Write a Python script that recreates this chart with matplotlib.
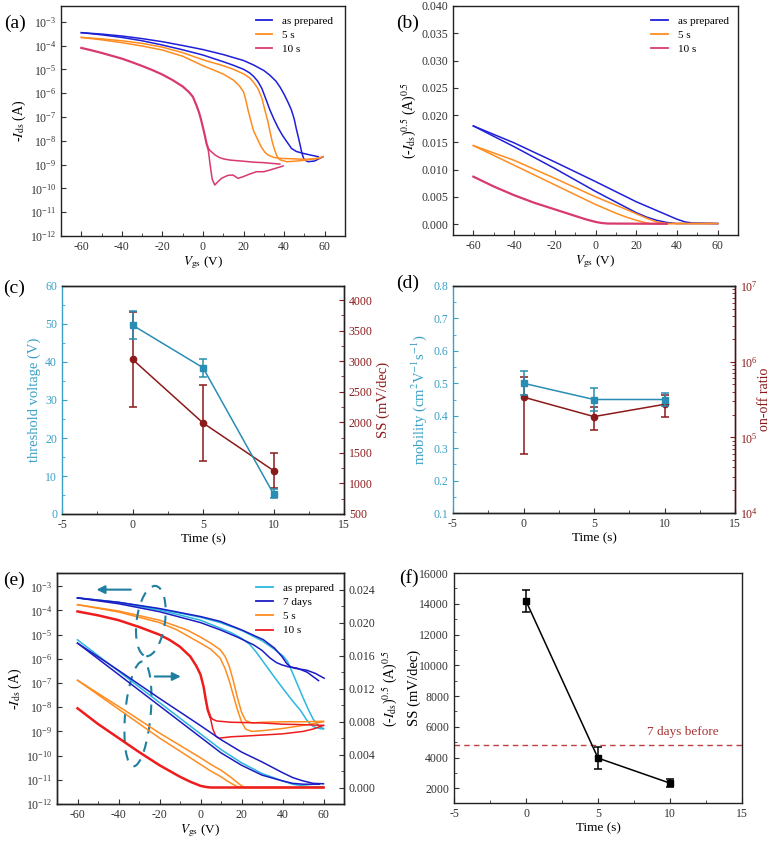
import numpy as np
import matplotlib
matplotlib.use('Agg')
from matplotlib import pyplot as plt
from matplotlib.patches import Ellipse
from matplotlib.ticker import MultipleLocator, LogLocator, NullFormatter, FormatStrFormatter

plt.rcParams['font.family'] = ['Liberation Serif', 'DejaVu Serif']
plt.rcParams['mathtext.fontset'] = 'stix'
plt.rcParams['axes.unicode_minus'] = False
plt.rcParams['xtick.direction'] = 'in'
plt.rcParams['ytick.direction'] = 'in'
plt.rcParams['axes.linewidth'] = 1.0
plt.rcParams['axes.edgecolor'] = '#222222'
plt.rcParams['xtick.color'] = '#333333'
plt.rcParams['ytick.color'] = '#333333'
plt.rcParams['xtick.labelsize'] = 8.5
plt.rcParams['ytick.labelsize'] = 8.5

BLUE = '#1f1fd8'
ORANGE = '#ff8c1f'
PINK = '#d83a6e'
CYAN = '#2bb8dc'
DBLUE = '#1c1cc4'
RED = '#ee1c1c'
TEAL = '#2a8db3'
TEAL_T = '#3aa0c6'
DRED = '#8b1a1a'
ANN = '#1f7fa0'

# ---- (a) transfer curves, log10(-Ids) ----
a_blue1_v = [-60, -50, -40, -30, -20, -10, 0, 10, 20, 25, 30, 33, 36, 38, 40, 42, 43.6, 45, 46,
             47, 47.7, 48.7, 49.5, 50.2, 51.8, 55, 59.2]
a_blue1_i = [-3.46, -3.52, -3.6, -3.71, -3.84, -4.0, -4.17, -4.38, -4.63, -4.82, -5.05, -5.25, -5.5,
             -5.75, -6.05, -6.4, -6.71, -7.1, -7.5, -7.85, -8.11, -8.5, -8.72, -8.81, -8.88, -8.85, -8.67]
a_blue2_v = [-60, -50, -40, -30, -20, -10, 0, 10, 15, 20, 23, 25, 27, 29, 31, 33, 35, 37, 39, 41,
             43.6, 46, 49.4, 53, 56.8]
a_blue2_i = [-3.46, -3.55, -3.66, -3.8, -3.98, -4.18, -4.4, -4.68, -4.83, -5.0, -5.15, -5.3, -5.5,
             -5.8, -6.25, -6.71, -7.1, -7.45, -7.75, -8.0, -8.32, -8.45, -8.53, -8.6, -8.67]
a_or1_v = [-60, -50, -40, -30, -20, -10, 0, 10, 15, 20, 23, 25, 27, 29, 30.5, 32, 33, 34, 35, 36.2,
           37, 38, 41.2, 45, 50, 55, 59.2]
a_or1_i = [-3.66, -3.72, -3.8, -3.91, -4.07, -4.3, -4.6, -4.85, -5.0, -5.19, -5.36, -5.55, -5.8,
           -6.2, -6.71, -7.2, -7.6, -8.0, -8.3, -8.6, -8.72, -8.8, -8.88, -8.86, -8.82, -8.76, -8.67]
a_or2_v = [-60, -50, -40, -30, -20, -10, 0, 5, 10, 15, 18, 20, 21, 22.2, 24, 25, 26.3, 27.5, 29,
           30.5, 32.1, 35, 37.9, 45, 50, 57.6]
a_or2_i = [-3.66, -3.76, -3.88, -4.02, -4.19, -4.45, -4.85, -5.02, -5.2, -5.45, -5.7, -5.95, -6.25,
           -6.71, -7.3, -7.6, -7.83, -8.05, -8.3, -8.48, -8.6, -8.7, -8.74, -8.76, -8.78, -8.74]
a_pk_v = [-60, -55, -50, -45, -40, -35, -30, -25, -20, -15, -10, -7, -5, -3.3, -2, -1, 0, 0.85, 1.7, 2.5]
a_pk_i = [-4.1, -4.2, -4.31, -4.43, -4.55, -4.7, -4.86, -5.03, -5.22, -5.45, -5.72, -5.95, -6.15,
          -6.5, -6.8, -7.1, -7.45, -7.76, -8.1, -8.32]
a_pk_up_v = [2.5, 4.1, 6, 8, 10, 13.2, 20, 25, 30, 37.9]
a_pk_up_i = [-8.32, -8.46, -8.6, -8.7, -8.76, -8.81, -8.86, -8.9, -8.92, -8.98]
a_pk_lo_v = [2.5, 3.5, 4.5, 5.8, 7, 9.1, 11, 12.5, 14.8, 17.3, 20, 23, 26.3, 30, 32.9, 36, 39.5]
a_pk_lo_i = [-8.32, -9.0, -9.6, -9.86, -9.75, -9.58, -9.5, -9.45, -9.44, -9.58, -9.5, -9.4, -9.3,
             -9.3, -9.23, -9.15, -9.06]

# ---- (b) sqrt(-Ids) ----
b_blue1_v = [-60, -40, -20, 0, 20, 30, 35, 40, 44, 47.5, 60]
b_blue1_s = [0.0180, 0.0149, 0.0114, 0.0078, 0.0041, 0.0025, 0.0017, 0.0009, 0.0004, 0.0002, 0.0001]
b_blue2_v = [-60, -40, -20, 0, 20, 25, 30, 35, 40, 60]
b_blue2_s = [0.0180, 0.0142, 0.0102, 0.0060, 0.0021, 0.0013, 0.0007, 0.0003, 0.0001, 0.0001]
b_or1_v = [-60, -40, -20, 0, 15, 20, 25, 30, 35, 60]
b_or1_s = [0.0144, 0.0117, 0.0084, 0.0050, 0.0027, 0.0019, 0.0011, 0.0004, 0.0001, 0.0001]
b_or2_v = [-60, -40, -20, 0, 10, 15, 20, 24, 27, 60]
b_or2_s = [0.0144, 0.0108, 0.0072, 0.0036, 0.0020, 0.0013, 0.0007, 0.0003, 0.0001, 0.0001]
b_pk_v = [-60, -50, -40, -30, -20, -10, -5, 0, 3, 6, 35]
b_pk_s = [0.0087, 0.0069, 0.0053, 0.0039, 0.0027, 0.0015, 0.0009, 0.0004, 0.0002, 0.0001, 0.00005]

# ---- (c) threshold voltage and SS ----
time_s = [0, 5, 10]
vth = [49.7, 38.5, 5.3]
vth_err = [3.7, 2.4, 1.2]
ss_c = [3030, 1990, 1210]
ss_c_err = [780, 620, 290]

# ---- (d) mobility and on/off ratio ----
mob = [0.50, 0.45, 0.45]
mob_err = [0.037, 0.037, 0.019]
onoff = [3.4e5, 1.88e5, 2.73e5]
onoff_err = [2.8e5, 0.62e5, 0.88e5]

# ---- (e) after 7 days, log10(-Ids) ----
e_cy1_v = [-60, -40, -20, 0, 9.6, 15, 20, 24, 27, 30, 33, 36, 40, 45, 48.6, 52, 55, 58, 60]
e_cy1_i = [-3.48, -3.68, -3.98, -4.4, -4.73, -4.92, -5.15, -5.4, -5.7, -6.05, -6.4, -6.75, -7.2,
           -7.75, -8.11, -8.55, -8.8, -8.88, -8.9]
e_cy2_v = [-60, -40, -20, 0, 9.6, 20, 30, 36, 40.5, 42.5, 44, 47, 50, 52.7, 55, 58, 60]
e_cy2_i = [-3.48, -3.66, -3.94, -4.28, -4.5, -4.82, -5.25, -5.6, -5.9, -6.12, -6.4, -7.0, -7.6,
           -8.11, -8.5, -8.8, -8.88]
e_db1_v = [-60, -40, -20, 0, 9.6, 20, 30.7, 36, 39.7, 42.1, 44, 46, 51.9, 56, 60.3]
e_db1_i = [-3.48, -3.66, -3.92, -4.25, -4.45, -4.8, -5.21, -5.55, -5.9, -6.2, -6.33, -6.39, -6.47,
           -6.6, -6.8]
e_db2_v = [-60, -40, -20, 0, 9.6, 18, 25.9, 30, 34, 37, 39.7, 43, 47, 52, 57.6]
e_db2_i = [-3.48, -3.72, -4.05, -4.5, -4.8, -5.1, -5.42, -5.65, -5.97, -6.15, -6.25, -6.33, -6.38,
           -6.55, -6.9]
e_or1_v = [-60, -40, -20, -6.7, 0, 5, 9.6, 12, 14, 16, 18, 20, 22, 25, 30, 40, 50, 60]
e_or1_i = [-3.76, -4.02, -4.4, -4.8, -5.1, -5.35, -5.62, -5.9, -6.3, -6.9, -7.6, -8.2, -8.55,
           -8.65, -8.62, -8.6, -8.6, -8.58]
e_or2_v = [-60, -40, -20, -11.5, 0, 5, 9.6, 12, 14, 16, 18, 20, 22, 25, 30, 40, 50, 60]
e_or2_i = [-3.76, -4.06, -4.5, -4.8, -5.35, -5.6, -5.97, -6.4, -6.9, -7.5, -8.1, -8.6, -8.9, -9.0,
           -8.97, -8.88, -8.75, -8.6]
e_rd_v = [-60, -50, -40, -30, -20, -15, -10, -5, -2, 0, 1.5, 2.5, 3.5, 4.7]
e_rd_i = [-4.04, -4.2, -4.4, -4.68, -5.0, -5.22, -5.5, -5.9, -6.3, -6.65, -7.15, -7.65, -8.1, -8.39]
e_rd_up_v = [4.7, 6, 8, 15, 30, 40, 50, 60]
e_rd_up_i = [-8.39, -8.5, -8.57, -8.62, -8.65, -8.7, -8.72, -8.75]
e_rd_lo_v = [4.7, 6, 7.5, 9, 12, 15, 20, 30, 40, 50, 55, 60]
e_rd_lo_i = [-8.39, -8.9, -9.2, -9.28, -9.25, -9.22, -9.2, -9.15, -9.1, -9.0, -8.9, -8.75]

# ---- (e) sqrt(-Ids), right axis ----
e_s_cy_v = [-60, -40, -20, 0, 10, 20, 30, 40, 45, 50, 55, 60]
e_s_cy = [0.0179, 0.0141, 0.0103, 0.0065, 0.0046, 0.0030, 0.0017, 0.0008, 0.0004, 0.0002, 0.0001, 0.0001]
e_s_db1_v = [-60, -40, -20, 0, 10, 20, 30, 40, 45, 50, 55, 60]
e_s_db1 = [0.0175, 0.0142, 0.0108, 0.0075, 0.0058, 0.0043, 0.0031, 0.0018, 0.0012, 0.0008, 0.0005, 0.00045]
e_s_db2_v = [-60, -40, -20, 0, 10, 20, 30, 40, 45, 50, 55, 58]
e_s_db2 = [0.0175, 0.0137, 0.0099, 0.0061, 0.0042, 0.0027, 0.0015, 0.0008, 0.0005, 0.0004, 0.0004, 0.0004]
e_s_or1_v = [-60, -36, -20, 0, 5, 10, 15, 18, 20, 22, 60]
e_s_or1 = [0.0130, 0.0092, 0.0066, 0.0036, 0.0028, 0.0021, 0.0012, 0.0006, 0.0002, 0.0, 0.0]
e_s_or2_v = [-60, -36, -20, 0, 5, 10, 13, 15, 18, 20, 60]
e_s_or2 = [0.0130, 0.0088, 0.0060, 0.0028, 0.0020, 0.0013, 0.0008, 0.0005, 0.0001, 0.0, 0.0]
e_s_rd_v = [-60, -50, -40, -30, -20, -10, -5, 0, 3, 5, 60]
e_s_rd = [0.0096, 0.0077, 0.0060, 0.0043, 0.0027, 0.0013, 0.0007, 0.0002, 0.00005, 0.0, 0.0]

# ---- (f) SS vs time ----
ss_f = [14180, 3970, 2340]
ss_f_err = [700, 715, 270]
ss_7days = 4800

SQRT_LABEL = r'(-$I_{\rm ds}$)$^{0.5}$ (A)$^{0.5}$'


def px(x, y):
    return x / 773, 1 - y / 842


fig = plt.figure(figsize=(7.73, 8.42), dpi=100)


def axbox(l, t, r, b):
    x0, y1 = px(l, t)
    x1, y0 = px(r, b)
    return fig.add_axes([x0, y0, x1 - x0, y1 - y0])


def vg_axis(ax):
    ax.set_xlim(-70, 70)
    ax.xaxis.set_major_locator(MultipleLocator(20))
    ax.xaxis.set_minor_locator(MultipleLocator(10))
    ax.set_xlabel(r'$V_{\rm gs}$ (V)', fontsize=9.5, labelpad=1)
    ax.tick_params(which='major', length=3.5)
    ax.tick_params(which='minor', length=2)


def log_yaxis(ax, lo, hi):
    ax.set_yscale('log')
    ax.set_ylim(lo, hi)
    ax.yaxis.set_major_locator(LogLocator(base=10, numticks=20))
    ax.yaxis.set_minor_locator(LogLocator(base=10, subs=[], numticks=20))
    ax.yaxis.set_minor_formatter(NullFormatter())


def lp(ax, v, logi, c, lw=1.1):
    ax.plot(v, 10 ** np.array(logi), color=c, lw=lw)


def legend(ax, x0):
    ax.legend(loc='upper left', bbox_to_anchor=(x0, 1.0), frameon=False, fontsize=8,
              handlelength=1.5, labelspacing=0.4, handletextpad=0.9)


# (a)
ax = axbox(61, 6, 345, 236)
lp(ax, a_blue1_v, a_blue1_i, BLUE)
lp(ax, a_blue2_v, a_blue2_i, BLUE)
lp(ax, a_or1_v, a_or1_i, ORANGE)
lp(ax, a_or2_v, a_or2_i, ORANGE)
lp(ax, a_pk_v, a_pk_i, PINK, 1.6)
lp(ax, a_pk_up_v, a_pk_up_i, PINK)
lp(ax, a_pk_lo_v, a_pk_lo_i, PINK)
ax.plot([], [], color=BLUE, lw=1.3, label='as prepared')
ax.plot([], [], color=ORANGE, lw=1.3, label='5 s')
ax.plot([], [], color=PINK, lw=1.3, label='10 s')
log_yaxis(ax, 1e-12, 10 ** -2.34)
vg_axis(ax)
ax.set_ylabel(r'-$I_{\rm ds}$ (A)', fontsize=10, labelpad=1)
legend(ax, 0.65)

# (b)
ax = axbox(453, 6, 738, 235)
ax.plot(b_blue1_v, b_blue1_s, color=BLUE, lw=1.1)
ax.plot(b_blue2_v, b_blue2_s, color=BLUE, lw=1.1)
ax.plot(b_or1_v, b_or1_s, color=ORANGE, lw=1.1)
ax.plot(b_or2_v, b_or2_s, color=ORANGE, lw=1.1)
ax.plot(b_pk_v, b_pk_s, color=PINK, lw=1.6)
ax.plot([], [], color=BLUE, lw=1.3, label='as prepared')
ax.plot([], [], color=ORANGE, lw=1.3, label='5 s')
ax.plot([], [], color=PINK, lw=1.3, label='10 s')
ax.set_ylim(-0.002, 0.040)
ax.yaxis.set_major_locator(MultipleLocator(0.005))
ax.yaxis.set_major_formatter(FormatStrFormatter('%.3f'))
vg_axis(ax)
ax.set_ylabel(SQRT_LABEL, fontsize=10, labelpad=2)
legend(ax, 0.66)


def time_axis(ax):
    ax.set_xlim(-5, 15)
    ax.xaxis.set_major_locator(MultipleLocator(5))
    ax.xaxis.set_minor_locator(MultipleLocator(2.5))
    ax.set_xlabel('Time (s)', fontsize=9.5, labelpad=2)
    ax.tick_params(which='major', length=3.5)
    ax.tick_params(which='minor', length=2)


def twin_colors(ax, ax2):
    ax.spines['left'].set_color(TEAL_T)
    ax.tick_params(axis='y', colors=TEAL_T, which='both')
    ax2.spines['right'].set_color(DRED)
    ax2.spines['left'].set_visible(False)
    ax2.tick_params(axis='y', colors=DRED, which='both')
    ax2.tick_params(which='major', length=3.5)
    ax2.tick_params(which='minor', length=2)


# (c)
ax = axbox(62, 286, 344, 514)
ax2 = ax.twinx()
ax.errorbar(time_s, vth, yerr=vth_err, color=TEAL, marker='s', ms=4.5, lw=1.1,
            capsize=3, elinewidth=1.1, capthick=1.1, zorder=3)
ax2.errorbar(time_s, ss_c, yerr=ss_c_err, color=DRED, marker='o', ms=4.5, lw=1.1,
             capsize=3, elinewidth=1.1, capthick=1.1)
ax.set_ylim(0, 60)
ax.yaxis.set_major_locator(MultipleLocator(10))
ax.yaxis.set_minor_locator(MultipleLocator(5))
ax2.set_ylim(500, 4230)
ax2.yaxis.set_major_locator(MultipleLocator(500))
ax2.yaxis.set_minor_locator(MultipleLocator(250))
time_axis(ax)
ax.set_ylabel('threshold voltage (V)', fontsize=10.5, color=TEAL_T, labelpad=3)
ax2.set_ylabel('SS (mV/dec)', fontsize=10.5, color=DRED, labelpad=3)
twin_colors(ax, ax2)
ax.set_zorder(ax2.get_zorder() + 1)
ax.patch.set_visible(False)

# (d)
ax = axbox(453, 286, 735, 513)
ax2 = ax.twinx()
ax.errorbar(time_s, mob, yerr=mob_err, color=TEAL, marker='s', ms=4.5, lw=1.1,
            capsize=3, elinewidth=1.1, capthick=1.1, zorder=3)
ax2.errorbar(time_s, onoff, yerr=onoff_err, color=DRED, marker='o', ms=4.5, lw=1.1,
             capsize=3, elinewidth=1.1, capthick=1.1)
ax.set_ylim(0.1, 0.8)
ax.yaxis.set_major_locator(MultipleLocator(0.1))
ax.yaxis.set_minor_locator(MultipleLocator(0.05))
ax2.set_yscale('log')
ax2.set_ylim(1e4, 1e7)
ax2.yaxis.set_major_locator(LogLocator(base=10, numticks=10))
ax2.yaxis.set_minor_locator(LogLocator(base=10, subs=np.arange(2, 10), numticks=10))
ax2.yaxis.set_minor_formatter(NullFormatter())
time_axis(ax)
ax.set_ylabel(r'mobility (cm$^2$V$^{-1}$s$^{-1}$)', fontsize=10.5, color=TEAL_T, labelpad=3)
ax2.set_ylabel('on-off ratio', fontsize=10, color=DRED, labelpad=0)
twin_colors(ax, ax2)
ax.set_zorder(ax2.get_zorder() + 1)
ax.patch.set_visible(False)

# (e)
ax = axbox(57, 573, 344, 804)
ax2 = ax.twinx()
lp(ax, e_cy1_v, e_cy1_i, CYAN)
lp(ax, e_cy2_v, e_cy2_i, CYAN)
lp(ax, e_db1_v, e_db1_i, DBLUE)
lp(ax, e_db2_v, e_db2_i, DBLUE)
lp(ax, e_or1_v, e_or1_i, ORANGE)
lp(ax, e_or2_v, e_or2_i, ORANGE)
lp(ax, e_rd_v, e_rd_i, RED, 1.8)
lp(ax, e_rd_up_v, e_rd_up_i, RED)
lp(ax, e_rd_lo_v, e_rd_lo_i, RED)
ax2.plot(e_s_cy_v, e_s_cy, color=CYAN, lw=1.1)
ax2.plot(e_s_db1_v, e_s_db1, color=DBLUE, lw=1.1)
ax2.plot(e_s_db2_v, e_s_db2, color=DBLUE, lw=1.1)
ax2.plot(e_s_or1_v, e_s_or1, color=ORANGE, lw=1.1)
ax2.plot(e_s_or2_v, e_s_or2, color=ORANGE, lw=1.1)
ax2.plot(e_s_rd_v, e_s_rd, color=RED, lw=1.8)
for c, lab in [(CYAN, 'as prepared'), (DBLUE, '7 days'), (ORANGE, '5 s'), (RED, '10 s')]:
    ax.plot([], [], color=c, lw=1.3, label=lab)
log_yaxis(ax, 1e-12, 10 ** -2.45)
vg_axis(ax)
ax.set_ylabel(r'-$I_{\rm ds}$ (A)', fontsize=10, labelpad=1)
ax2.set_ylim(-0.002, 0.026)
ax2.yaxis.set_major_locator(MultipleLocator(0.004))
ax2.yaxis.set_minor_locator(MultipleLocator(0.002))
ax2.yaxis.set_major_formatter(FormatStrFormatter('%.3f'))
ax2.tick_params(which='major', length=3.5)
ax2.tick_params(which='minor', length=2)
ax2.set_ylabel(SQRT_LABEL, fontsize=10, labelpad=3)
legend(ax, 0.66)
for cx, cy, w, h, ang in [(0.327, 0.792, 0.099, 0.306, -6), (0.282, 0.390, 0.089, 0.455, -4)]:
    ax.add_patch(Ellipse((cx, cy), w, h, angle=ang, transform=ax.transAxes, fill=False,
                         ec=ANN, lw=1.5, ls=(0, (5, 4)), zorder=5))
ax.annotate('', xy=(0.128, 0.928), xytext=(0.267, 0.928), xycoords='axes fraction',
            arrowprops=dict(arrowstyle='-|>', color=ANN, lw=1.5, mutation_scale=12))
ax.annotate('', xy=(0.441, 0.552), xytext=(0.331, 0.552), xycoords='axes fraction',
            arrowprops=dict(arrowstyle='-|>', color=ANN, lw=1.5, mutation_scale=12))

# (f)
ax = axbox(454, 573, 742, 803)
ax.errorbar(time_s, ss_f, yerr=ss_f_err, color='black', marker='s', ms=5, lw=1.1,
            capsize=3, elinewidth=1.1, capthick=1.1)
ax.axhline(ss_7days, color='#c04040', lw=1.0, ls=(0, (4, 3)))
ax.text(10.9, 5650, '7 days before', color='#a83232', fontsize=9.5, ha='center', va='center')
ax.set_ylim(1050, 16000)
ax.yaxis.set_major_locator(MultipleLocator(2000))
ax.yaxis.set_minor_locator(MultipleLocator(1000))
time_axis(ax)
ax.set_ylabel('SS (mV/dec)', fontsize=10.5, labelpad=-1)

for lab, (x, y) in zip('abcdef', [(4, 23), (396, 23), (3, 288), (396, 283), (3, 580), (399, 578)]):
    fx, fy = px(x, y)
    fig.text(fx, fy, '(%s)' % lab, fontsize=14, ha='left', va='center')

fig.savefig('out.png', dpi=100)
